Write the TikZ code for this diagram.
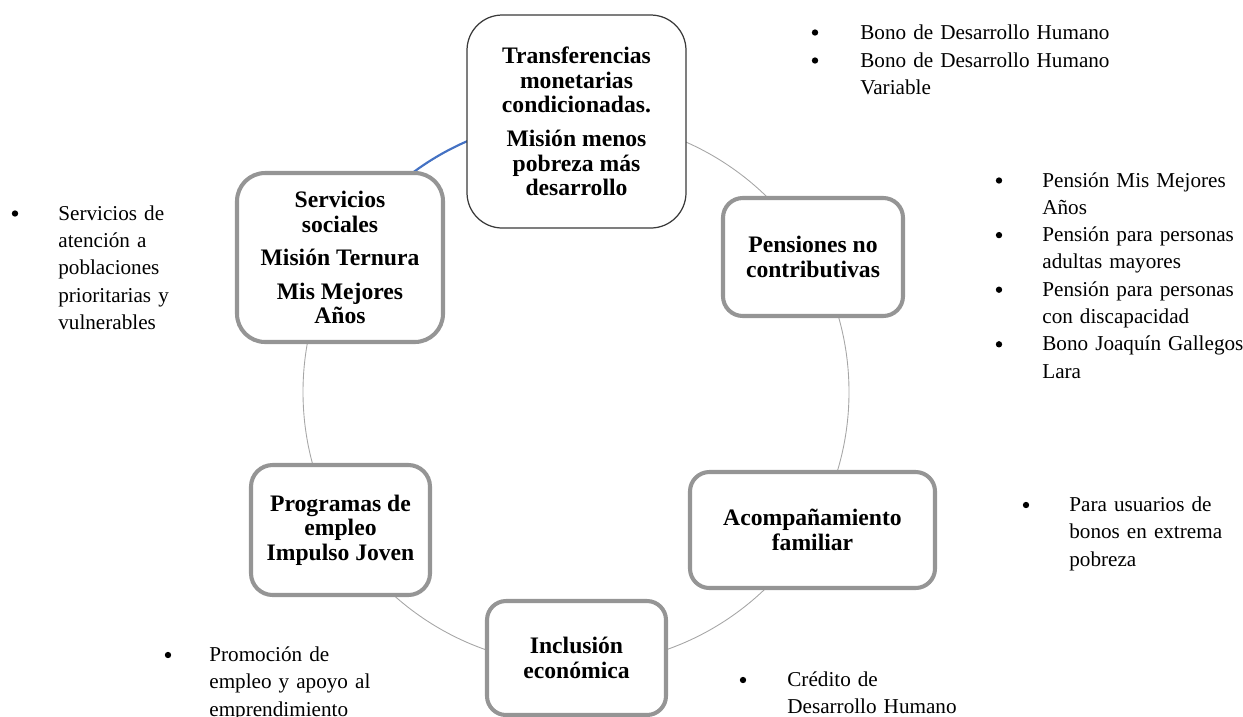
\documentclass[tikz,border=0pt]{standalone}
\usepackage{fontspec}
\setmainfont{Liberation Serif}
\definecolor{color_ring}{HTML}{A6A6A6}
\definecolor{color_ring_highlight}{HTML}{4472C4}
\definecolor{color_box_border}{HTML}{959595}
\definecolor{color_box_dark}{HTML}{3A3A3A}
\def\unitpx{0.567pt}

\begin{document}
\begin{tikzpicture}[x=\unitpx, y=-\unitpx,
        box/.style={rectangle, draw=color_box_border, line width=2.3pt, fill=white, inner sep=0pt, align=center, font=\bfseries\fontsize{13.4}{14}\selectfont},
        itemtext/.style={anchor=base west, inner sep=0pt, text width=260*\unitpx, align=left, font=\fontsize{12}{15.5}\selectfont},
        itemdot/.style={circle, fill=black, inner sep=0pt, minimum size=3.6pt}]
            \useasboundingbox (0,0) rectangle (1243,716);
            % the ring behind the boxes
            \node[circle, draw=color_ring, line width=0.5pt, minimum size=546*\unitpx, inner sep=0pt] (ring) at (576,392) {};
            \draw[color_ring_highlight, line width=1.2pt] (ring.128) arc[start angle=128, end angle=112, radius=273*\unitpx];

            % boxes on the ring
            \node[box, draw=color_box_dark, line width=0.7pt, rounded corners=20pt, minimum width=219*\unitpx, minimum height=213*\unitpx] (trans) at (576.5,121.5) {Transferencias\\monetarias\\condicionadas.\\[5pt]Misión menos\\pobreza más\\desarrollo};
            \node[box, rounded corners=11.2pt, minimum width=180*\unitpx, minimum height=118*\unitpx] (pens) at (813,257) {Pensiones no\\contributivas};
            \node[box, rounded corners=11pt, minimum width=245*\unitpx, minimum height=116*\unitpx] (acomp) at (812.5,530) {Acompañamiento\\familiar};
            \node[box, rounded corners=10.8pt, minimum width=179*\unitpx, minimum height=114*\unitpx] (incl) at (576.5,658) {Inclusión\\económica};
            \node[box, rounded corners=12.3pt, minimum width=179*\unitpx, minimum height=130*\unitpx] (prog) at (340.5,530) {Programas de\\empleo\\Impulso Joven};
            \node[box, rounded corners=16pt, minimum width=206*\unitpx, minimum height=169*\unitpx] (serv) at (340,257.5) {Servicios\\sociales\\[5pt]Misión Ternura\\[5pt]Mis Mejores\\Años};

            % bullet lists
            \node[itemdot] (tdot1) at (815,32.5) {};
            \node[itemdot] (tdot2) at (815,60.5) {};
            \node[itemtext] (titem1) at (860,39) {Bono de Desarrollo Humano};
            \node[itemtext] (titem2) at (860,67) {Bono de Desarrollo Humano\\Variable};
            %
            \foreach \y [count=\i] in {180.5,235.1,289.7,344.3}
                \node[itemdot] (pdot\i) at (999,\y) {};
            \node[itemtext] (pitem1) at (1042,187) {Pensión Mis Mejores\\Años};
            \node[itemtext] (pitem2) at (1042,241.6) {Pensión para personas\\adultas mayores};
            \node[itemtext] (pitem3) at (1042,296.2) {Pensión para personas\\con discapacidad};
            \node[itemtext] (pitem4) at (1042,350.8) {Bono Joaquín Gallegos\\Lara};
            %
            \node[itemdot] (adot) at (1026,505) {};
            \node[itemtext] (aitem) at (1069,511.5) {Para usuarios de\\bonos en extrema\\pobreza};
            %
            \node[itemdot] (sdot) at (15,213.5) {};
            \node[itemtext] (sitem) at (58,220) {Servicios de\\atención a\\poblaciones\\prioritarias y\\vulnerables};
            %
            \node[itemdot] (edot) at (168,655) {};
            \node[itemtext] (eitem) at (209,661.5) {Promoción de\\empleo y apoyo al\\emprendimiento};
            %
            \node[itemdot] (cdot) at (743,680) {};
            \node[itemtext] (citem) at (787,686.5) {Crédito de\\Desarrollo Humano};
    \end{tikzpicture}
\end{document}
